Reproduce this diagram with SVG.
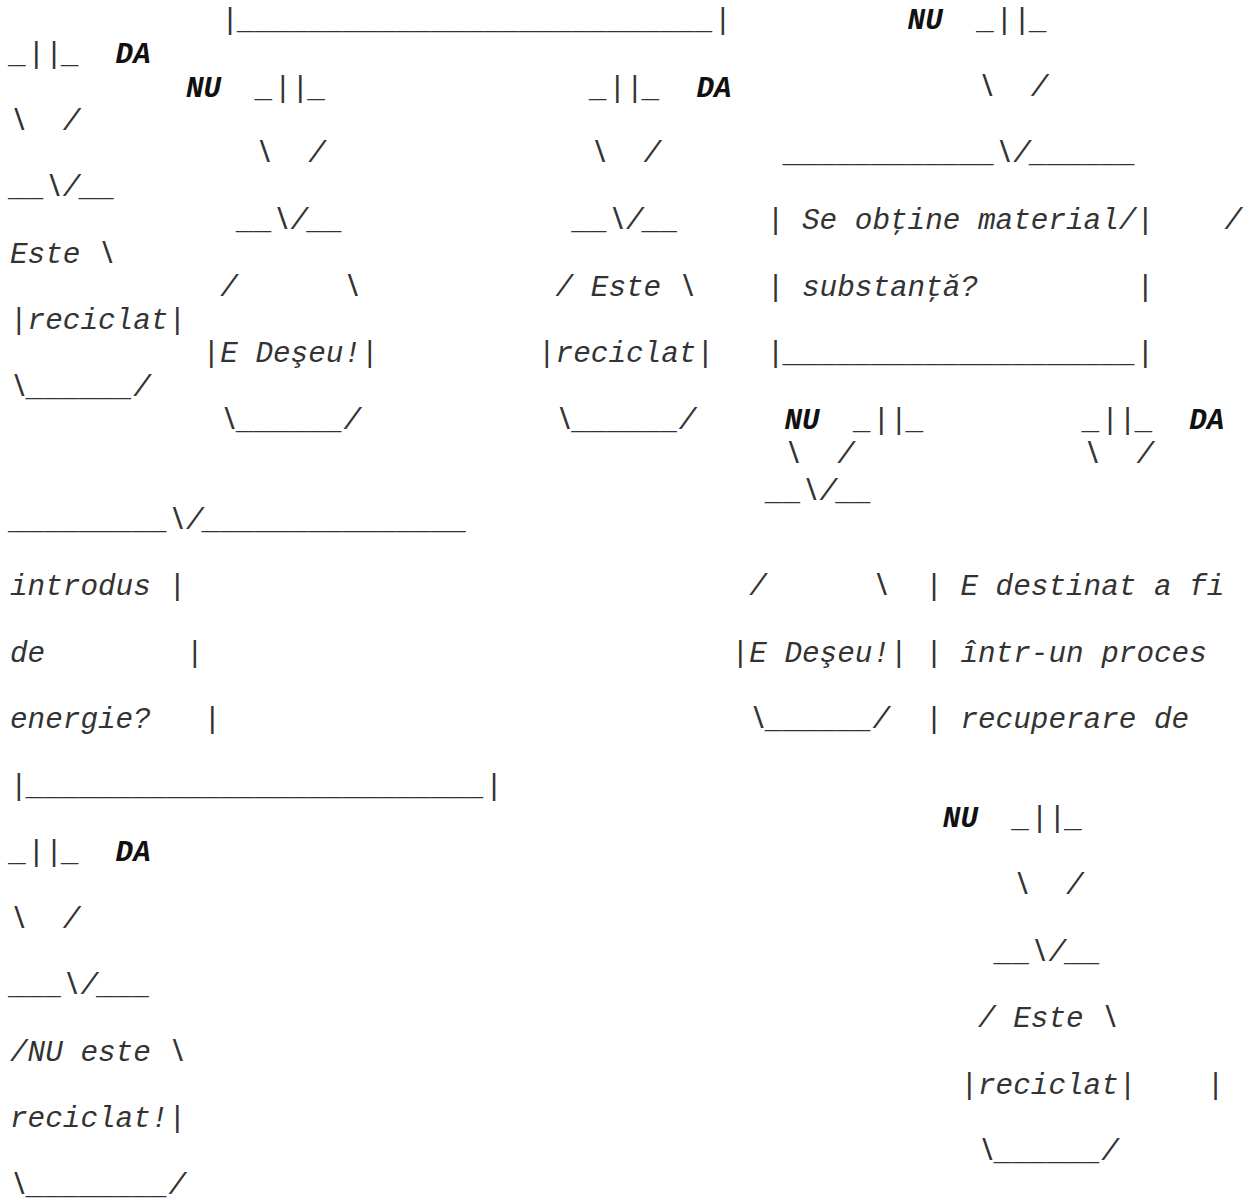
<svg xmlns="http://www.w3.org/2000/svg" width="1255" height="1200" viewBox="0 0 1255 1200">
<style>
text { font-family: "Liberation Mono", "Courier New", monospace; font-size: 29.33px; font-style: italic; fill: #333333; white-space: pre; }
.b { font-weight: bold; fill: #111111; }
</style>
<rect width="1255" height="1200" fill="#ffffff"/>
<g id="connectors">
  <text x="221.2" y="29" xml:space="preserve">|___________________________|</text>
  <text x="907.6" y="29" xml:space="preserve"><tspan class="b">NU</tspan>  _||_</text>
  <text x="978" y="95.5" xml:space="preserve">\  /</text>
  <text x="784.4" y="162" xml:space="preserve">____________\/______</text>
  <text x="10" y="63" xml:space="preserve">_||_  <tspan class="b">DA</tspan></text>
  <text x="10" y="129.5" xml:space="preserve">\  /</text>
  <text x="10" y="196" xml:space="preserve">__\/__</text>
  <text x="186" y="97" xml:space="preserve"><tspan class="b">NU</tspan>  _||_</text>
  <text x="255.4" y="162" xml:space="preserve">\  /</text>
  <text x="237.8" y="229" xml:space="preserve">__\/__</text>
  <text x="590.8" y="97" xml:space="preserve">_||_  <tspan class="b">DA</tspan></text>
  <text x="590.8" y="162" xml:space="preserve">\  /</text>
  <text x="573.2" y="229" xml:space="preserve">__\/__</text>
  <text x="10" y="528.5" xml:space="preserve">_________\/_______________</text>
  <text x="10" y="861" xml:space="preserve">_||_  <tspan class="b">DA</tspan></text>
  <text x="10" y="927.5" xml:space="preserve">\  /</text>
  <text x="10" y="994" xml:space="preserve">___\/___</text>
  <text x="784.4" y="428.5" xml:space="preserve"><tspan class="b">NU</tspan>  _||_</text>
  <text x="1083.6" y="428.5" xml:space="preserve">_||_  <tspan class="b">DA</tspan></text>
  <text x="784.4" y="463" xml:space="preserve">\  /</text>
  <text x="1083.6" y="463" xml:space="preserve">\  /</text>
  <text x="766.8" y="500" xml:space="preserve">__\/__</text>
  <text x="942.8" y="827" xml:space="preserve"><tspan class="b">NU</tspan>  _||_</text>
  <text x="1013.2" y="894" xml:space="preserve">\  /</text>
  <text x="995.6" y="960.5" xml:space="preserve">__\/__</text>
</g>
<g id="node-reciclat-1">
  <text x="10" y="262.5" xml:space="preserve">Este \</text>
  <text x="10" y="329" xml:space="preserve">|reciclat|</text>
  <text x="10" y="395.5" xml:space="preserve">\______/</text>
</g>
<g id="node-deseu-1">
  <text x="220.2" y="295.5" xml:space="preserve">/      \</text>
  <text x="202.6" y="362" xml:space="preserve">|E Deşeu!|</text>
  <text x="220.2" y="428.5" xml:space="preserve">\______/</text>
</g>
<g id="node-reciclat-2">
  <text x="555.6" y="295.5" xml:space="preserve">/ Este \</text>
  <text x="538" y="362" xml:space="preserve">|reciclat|</text>
  <text x="555.6" y="428.5" xml:space="preserve">\______/</text>
</g>
<g id="node-material">
  <text x="766.8" y="228.5" xml:space="preserve">| Se obţine material/|    /</text>
  <text x="766.8" y="295.5" xml:space="preserve">| substanţă?         |</text>
  <text x="766.8" y="362" xml:space="preserve">|____________________|</text>
</g>
<g id="node-energie">
  <text x="10" y="595" xml:space="preserve">introdus |</text>
  <text x="10" y="661.5" xml:space="preserve">de        |</text>
  <text x="10" y="728" xml:space="preserve">energie?   |</text>
  <text x="10" y="794.5" xml:space="preserve">|__________________________|</text>
</g>
<g id="node-deseu-2-and-recuperare">
  <text x="749.2" y="595" xml:space="preserve">/      \  | E destinat a fi</text>
  <text x="731.6" y="661.5" xml:space="preserve">|E Deşeu!| | într-un proces</text>
  <text x="749.2" y="728" xml:space="preserve">\______/  | recuperare de</text>
</g>
<g id="node-nu-reciclat">
  <text x="10" y="1060.5" xml:space="preserve">/NU este \</text>
  <text x="10" y="1127" xml:space="preserve">reciclat!|</text>
  <text x="10" y="1193.5" xml:space="preserve">\________/</text>
</g>
<g id="node-reciclat-3">
  <text x="978" y="1027" xml:space="preserve">/ Este \</text>
  <text x="960.4" y="1093.5" xml:space="preserve">|reciclat|    |</text>
  <text x="978" y="1160" xml:space="preserve">\______/</text>
</g>
</svg>
